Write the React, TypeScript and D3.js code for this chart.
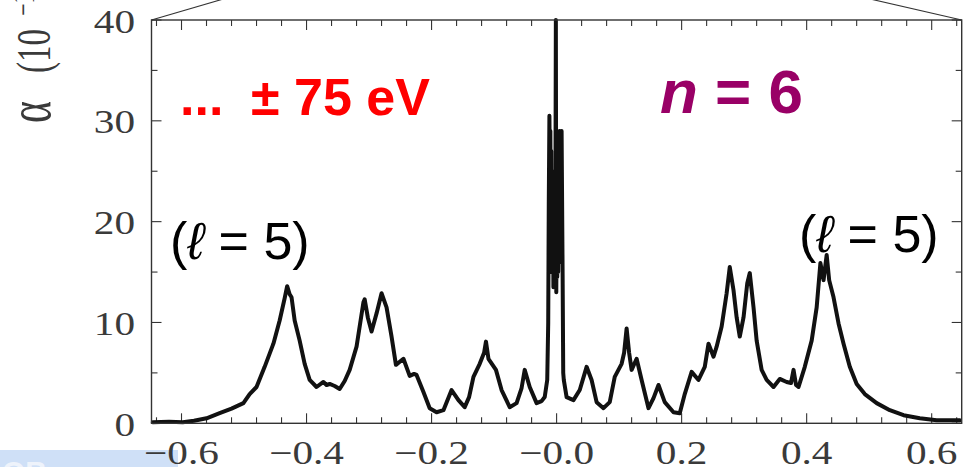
import React from "react";
import * as d3 from "d3";

const xTickVals = [-0.6, -0.4, -0.2, 0, 0.2, 0.4, 0.6];
const xTickLabels = ["\u22120.6", "\u22120.4", "\u22120.2", "\u22120.0", "0.2", "0.4", "0.6"];
const yTickVals = [0, 10, 20, 30, 40];
const yTickLabels = ["0", "10", "20", "30", "40"];

const curveX = [
  -0.646, -0.62, -0.598, -0.58, -0.56, -0.539, -0.52, -0.501, -0.491, -0.48, -0.467, -0.453, -0.443, -0.435, -0.431,
  -0.427, -0.424, -0.419, -0.411, -0.403, -0.395, -0.384, -0.373, -0.368, -0.363, -0.355, -0.347, -0.339, -0.331,
  -0.32, -0.309, -0.307, -0.302, -0.296, -0.288, -0.28, -0.272, -0.264, -0.257, -0.245, -0.235, -0.228, -0.224,
  -0.213, -0.203, -0.192, -0.181, -0.168, -0.157, -0.147, -0.14, -0.133, -0.123, -0.116, -0.113, -0.109, -0.097,
  -0.088, -0.075, -0.064, -0.056, -0.051, -0.043, -0.032, -0.024, -0.019, -0.015,
  -0.0134, -0.0125, -0.0115, -0.0107, -0.01, -0.0093, -0.0086, -0.0079, -0.0072, -0.0065, -0.0058, -0.0051,
  -0.0044, -0.0037, -0.003, -0.0022, -0.0012, -0.0005, 0.0003, 0.001, 0.0018, 0.0025, 0.0033, 0.004, 0.0048,
  0.0056, 0.0064, 0.0072, 0.008, 0.0088, 0.0096, 0.0106,
  0.0115, 0.016, 0.027, 0.037, 0.048, 0.056, 0.064, 0.075, 0.085, 0.093, 0.104, 0.108, 0.112, 0.116, 0.12, 0.128,
  0.136, 0.147, 0.155, 0.163, 0.173, 0.187, 0.197, 0.205, 0.216, 0.227, 0.237, 0.243, 0.251, 0.256, 0.264, 0.272,
  0.277, 0.283, 0.288, 0.293, 0.299, 0.305, 0.309, 0.315, 0.32, 0.328, 0.336, 0.347, 0.357, 0.368, 0.375, 0.379,
  0.383, 0.387, 0.397, 0.408, 0.416, 0.422, 0.427, 0.432, 0.436, 0.443, 0.451, 0.459, 0.469, 0.48, 0.493, 0.512,
  0.533, 0.555, 0.581, 0.608, 0.645,
];
const curveY = [
  0.1, 0.15, 0.1, 0.25, 0.5, 1.0, 1.45, 2.0, 2.9, 3.6, 5.6, 7.9, 10.2, 12.4, 13.6,
  12.8, 12.5, 10.2, 8.2, 5.9, 4.3, 3.6, 4.1, 3.8, 3.9, 3.7, 3.4, 4.2, 5.3,
  7.6, 12.0, 12.3, 10.5, 9.1, 10.9, 12.9, 11.5, 8.6, 5.8, 6.4, 4.7, 4.9, 4.8,
  3.1, 1.5, 1.1, 1.3, 3.3, 2.3, 1.6, 2.6, 4.6, 5.9, 7.0, 8.1, 6.4, 5.3,
  3.3, 1.6, 2.0, 3.5, 5.3, 3.6, 2.0, 2.2, 2.6, 4.3,
  10, 22, 30.5, 24, 29, 18, 27, 15, 25, 17, 24, 13.5,
  22, 14, 20, 14, 40, 13, 22, 14.5, 26, 15, 24, 17, 29,
  16, 27, 19, 29, 22, 15, 5,
  4.3, 2.6, 2.3, 3.3, 5.6, 4.3, 2.1, 1.5, 2.1, 4.6, 5.9, 7.0, 9.4, 7.0, 5.3, 6.4,
  4.3, 1.5, 2.5, 3.8, 2.1, 1.1, 1.0, 2.9, 5.1, 4.3, 5.6, 7.9, 6.6, 7.6, 9.6, 12.9,
  15.5, 13.2, 10.5, 8.6, 10.5, 13.9, 14.9, 11.5, 8.2, 5.3, 4.3, 3.6, 4.4, 4.1, 4.0, 5.3,
  3.8, 3.6, 5.6, 8.2, 11.5, 15.9, 14.2, 16.7, 14.2, 12.5, 9.9, 7.9, 5.6, 3.9, 2.9, 2.0,
  1.3, 0.8, 0.5, 0.3, 0.3,
];

const W = 975;
const H = 467;
const L = 151.5, R = 961.7, T = 20, B = 423.3;

export default function App() {
  const x = d3.scaleLinear().domain([-0.648, 0.648]).range([L, R]);
  const y = d3.scaleLinear().domain([0, 40]).range([B, T]);
  const pts: [number, number][] = curveX.map((v, i) => [v, curveY[i]]);
  const line = d3
    .line<[number, number]>()
    .x((d) => x(d[0]))
    .y((d) => y(d[1]));

  const xMinor = d3.range(-16, 17).map((i) => i * 0.04);
  const yMinor = d3.range(0, 9).map((i) => i * 5);
  const serif = "'Liberation Serif', 'DejaVu Serif', serif";
  const sans = "'Liberation Sans', Arial, 'DejaVu Sans', sans-serif";
  const labelColor = "#3a3a3a";

  return (
    <svg
      width={W}
      height={H}
      style={{ position: "absolute", left: 0, top: 0, display: "block", background: "#fff" }}
    >
      {/* connector lines */}
      <line x1={L} y1={T} x2={L + 130} y2={T - 38} stroke="#333" strokeWidth={1.1} />
      <line x1={R} y1={T} x2={R - 170} y2={T - 39} stroke="#333" strokeWidth={1.1} />

      {/* bottom-left blue block */}
      <rect x={0} y={450} width={178} height={20} fill="#cfe0f7" />
      <text x={2} y={482} fontFamily={sans} fontWeight="bold" fontSize={30} fill="#eef3fb">OB</text>

      {/* ticks */}
      {xMinor.map((v, i) => {
        const major = Math.abs(Math.round(v * 100) % 20) === 0;
        const len = major ? 10 : 6;
        return (
          <g key={"xt" + i}>
            <line x1={x(v)} x2={x(v)} y1={B} y2={B - len} stroke="#333" strokeWidth={1.1} />
            <line x1={x(v)} x2={x(v)} y1={T} y2={T + len} stroke="#333" strokeWidth={1.1} />
          </g>
        );
      })}
      {yMinor.map((v, i) => {
        const major = v % 10 === 0;
        const len = major ? 10 : 6;
        return (
          <g key={"yt" + i}>
            <line x1={L} x2={L + len} y1={y(v)} y2={y(v)} stroke="#333" strokeWidth={1.1} />
            <line x1={R} x2={R - len} y1={y(v)} y2={y(v)} stroke="#333" strokeWidth={1.1} />
          </g>
        );
      })}

      {/* curve */}
      <path
        d={line(pts) || ""}
        fill="none"
        stroke="#111"
        strokeWidth={4}
        strokeLinejoin="round"
        strokeLinecap="round"
      />

      {/* frame */}
      <rect x={L} y={T} width={R - L} height={B - T} fill="none" stroke="#333" strokeWidth={1.4} />

      {/* x tick labels */}
      {xTickVals.map((v, i) => (
        <text
          key={"xl" + i}
          transform={`translate(${x(v)},464) scale(1.25,1)`}
          textAnchor="middle"
          fontFamily={serif}
          fontSize={33}
          fill={labelColor}
        >
          {xTickLabels[i]}
        </text>
      ))}
      {/* y tick labels */}
      {yTickVals.map((v, i) => (
        <text
          key={"yl" + i}
          transform={`translate(135,${y(v) + 12.5}) scale(1.25,1)`}
          textAnchor="end"
          fontFamily={serif}
          fontSize={33}
          fill={labelColor}
        >
          {yTickLabels[i]}
        </text>
      ))}

      {/* y axis label (clipped at top) */}
      <text transform="translate(50,123) scale(1.45,1) rotate(-90)" fontFamily={serif} fontSize={42} fill={labelColor}>
        α
      </text>
      <text transform="translate(50,73) scale(1.45,1) rotate(-90)" fontFamily={serif} fontSize={33} fill={labelColor}>
        (10
      </text>
      <text transform="translate(34,16) scale(1.45,1) rotate(-90)" fontFamily={serif} fontSize={22} fill={labelColor}>
        −18 cm²/eV)
      </text>

      {/* annotations */}
      <text x={180} y={115} fontFamily={sans} fontWeight="bold" fontSize={52} fill="#ff0000">
        ...
      </text>
      <text x={251} y={115} fontFamily={sans} fontWeight="bold" fontSize={52} fill="#ff0000">
        ± 75 eV
      </text>
      <text x={660} y={113} fontFamily={sans} fontWeight="bold" fontSize={62} fill="#990066">
        <tspan fontStyle="italic">n</tspan> = 6
      </text>
      <text x={170} y={259} fontFamily={sans} fontSize={52} fill="#000">
        (<tspan fontStyle="italic">ℓ</tspan> = 5)
      </text>
      <text x={799} y={252} fontFamily={sans} fontSize={52} fill="#000">
        (<tspan fontStyle="italic">ℓ</tspan> = 5)
      </text>
    </svg>
  );
}
